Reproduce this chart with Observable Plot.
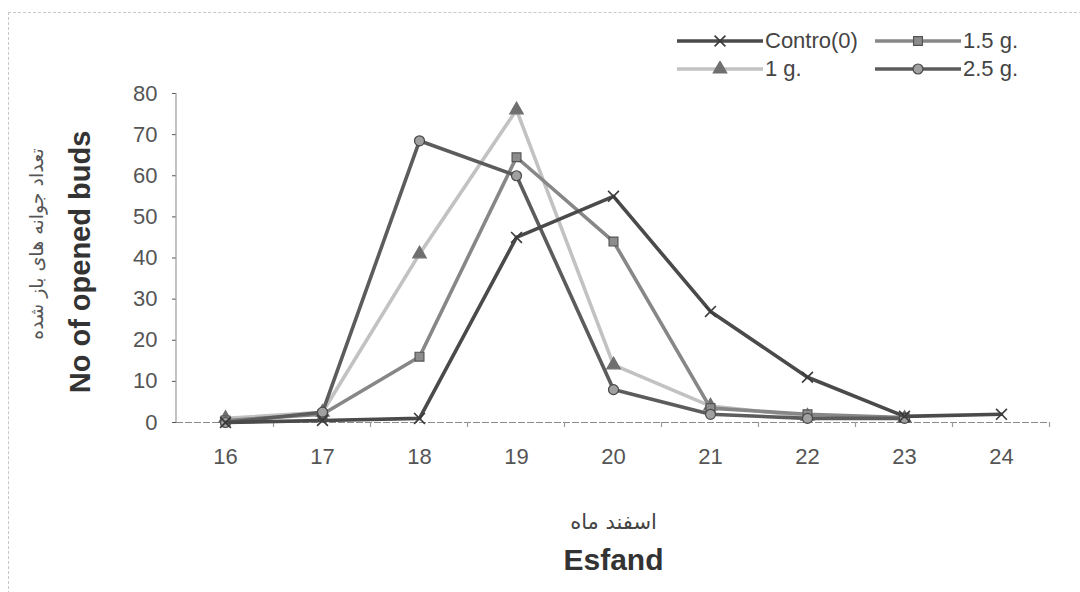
<!DOCTYPE html>
<html><head><meta charset="utf-8">
<script src="https://cdn.jsdelivr.net/npm/d3@7"></script>
<script src="https://cdn.jsdelivr.net/npm/@observablehq/plot@0.6"></script>
<style>
html,body{margin:0;padding:0;background:#fff;}
body{width:1080px;height:592px;position:relative;overflow:hidden;font-family:"Liberation Sans",Arial,sans-serif;}
#legend{position:relative;height:78px;}
.item{position:absolute;display:flex;align-items:center;font-size:22px;color:#444;white-space:nowrap;height:24px;}
.item svg{margin-right:2px;}
#border{position:absolute;left:8px;top:12px;right:-2px;bottom:-2px;border-top:1px dashed #c8c8c8;border-left:1px dashed #c8c8c8;pointer-events:none;}
</style></head><body>
<div id="border"></div>
<div id="legend"></div>
<div id="chart"></div>
<script>
// ---- data ----
const days = [16, 17, 18, 19, 20, 21, 22, 23, 24];
const control = [0, 0.5, 1, 45, 55, 27, 11, 1.5, 2];
const g1 = [1, 2.5, 41, 76, 14, 4, 1.5, 1];
const g15 = [0.5, 2, 16, 64.5, 44, 3.5, 2, 1.2];
const g25 = [0, 2.5, 68.5, 60, 8, 2, 1, 1];
const seriesNames = ["Contro(0)", "1 g.", "1.5 g.", "2.5 g."];
const yTicks = [0, 10, 20, 30, 40, 50, 60, 70, 80];
const yTitleFa = "تعداد جوانه های باز شده";
const yTitleEn = "No of opened buds";
const xTitleFa = "اسفند ماه";
const xTitleEn = "Esfand";

// ---- styles ----
const series = [
  {name: seriesNames[1], values: g1,  stroke: "#c2c2c2", symbol: "triangle", fill: "#6f6f6f", mstroke: "#6f6f6f"},
  {name: seriesNames[2], values: g15, stroke: "#878787", symbol: "square",   fill: "#8c8c8c", mstroke: "#555555"},
  {name: seriesNames[3], values: g25, stroke: "#5c5c5c", symbol: "circle",   fill: "#a0a0a0", mstroke: "#484848"},
  {name: seriesNames[0], values: control, stroke: "#4a4a4a", symbol: "times", fill: "none", mstroke: "#3a3a3a"}
];

const symbolMap = {times: d3.symbolTimes, triangle: d3.symbolTriangle, square: d3.symbolSquare, circle: d3.symbolCircle};
const R = 5;

// ---- axis lines (y-axis line + x separators) ----
function axisLines(index, scales, values, dim) {
  const ns = "http://www.w3.org/2000/svg";
  const g = document.createElementNS(ns, "g");
  const x0 = dim.marginLeft, y0 = scales.y(0), yTop = scales.y(80);
  const line = (x1, y1, x2, y2) => {
    const l = document.createElementNS(ns, "line");
    l.setAttribute("x1", x1); l.setAttribute("y1", y1);
    l.setAttribute("x2", x2); l.setAttribute("y2", y2);
    l.setAttribute("stroke", "#9a9a9a"); l.setAttribute("stroke-width", "1.2");
    g.appendChild(l);
  };
  line(x0, yTop, x0, y0);
  const step = scales.x(days[1]) - scales.x(days[0]);
  for (const d of days) line(scales.x(d) + step / 2, y0, scales.x(d) + step / 2, y0 + 5);
  return g;
}

const marks = [
  Plot.ruleY([0], {stroke: "#8c8c8c", strokeWidth: 1.2, strokeDasharray: "7,2"}),
  axisLines
];
for (const s of series) {
  const data = s.values.map((v, i) => ({day: days[i], value: v}));
  marks.push(Plot.line(data, {x: "day", y: "value", stroke: s.stroke, strokeWidth: 3.6, strokeLinejoin: "round"}));
  marks.push(Plot.dot(data, {x: "day", y: "value", symbol: s.symbol, r: R,
    fill: s.fill, stroke: s.mstroke, strokeWidth: s.symbol === "times" ? 1.6 : 1.2}));
}
marks.push(
  Plot.text([yTitleFa], {text: d => d, frameAnchor: "left", textAnchor: "middle", lineAnchor: "middle",
    rotate: -90, dx: -140, dy: -14,
    fontFamily: "DejaVu Sans", fontSize: 19, fill: "#555"}),
  Plot.text([yTitleEn], {text: d => d, frameAnchor: "left", textAnchor: "middle", lineAnchor: "middle",
    rotate: -90, dx: -96, dy: 4,
    fontFamily: "Liberation Sans, Arial, sans-serif", fontSize: 29, fontWeight: "bold", fill: "#333"}),
  Plot.text([xTitleFa], {text: d => d, frameAnchor: "bottom", lineAnchor: "middle", dy: 100,
    fontFamily: "DejaVu Sans", fontSize: 21, fill: "#444"}),
  Plot.text([xTitleEn], {text: d => d, frameAnchor: "bottom", lineAnchor: "middle", dy: 138,
    fontFamily: "Liberation Sans, Arial, sans-serif", fontSize: 30, fontWeight: "bold", fill: "#333"})
);

const chart = Plot.plot({
  width: 1080, height: 514,
  marginTop: 15, marginBottom: 170, marginLeft: 176, marginRight: 30,
  style: {fontFamily: "Liberation Sans, Arial, sans-serif", fontSize: "22px", color: "#555", background: "transparent", overflow: "visible"},
  x: {type: "point", domain: days, padding: 0.5, tickSize: 0, tickPadding: 26, label: null},
  y: {domain: [0, 80], ticks: yTicks, tickSize: 4, tickPadding: 15, label: null},
  marks
});
document.getElementById("chart").appendChild(chart);

// ---- legend ----
const legend = document.getElementById("legend");
const legendPos = {
  "Contro(0)": [677, 41], "1.5 g.": [875, 41],
  "1 g.": [677, 69], "2.5 g.": [875, 69]
};
for (const s of series) {
  const [lx, ly] = legendPos[s.name];
  const item = document.createElement("div");
  item.className = "item";
  item.style.left = lx + "px";
  item.style.top = (ly - 12) + "px";
  const w = 86, h = 16;
  const sym = d3.symbol(symbolMap[s.symbol], R * R * Math.PI)();
  item.innerHTML = `<svg width="${w}" height="${h}">
    <line x1="0" y1="${h/2}" x2="${w}" y2="${h/2}" stroke="${s.stroke}" stroke-width="3.6"/>
    <path d="${sym}" transform="translate(${w/2},${h/2})" fill="${s.fill}" stroke="${s.mstroke}" stroke-width="${s.symbol === "times" ? 1.6 : 1.2}"/>
  </svg><span>${s.name}</span>`;
  legend.appendChild(item);
}
</script>
</body></html>
